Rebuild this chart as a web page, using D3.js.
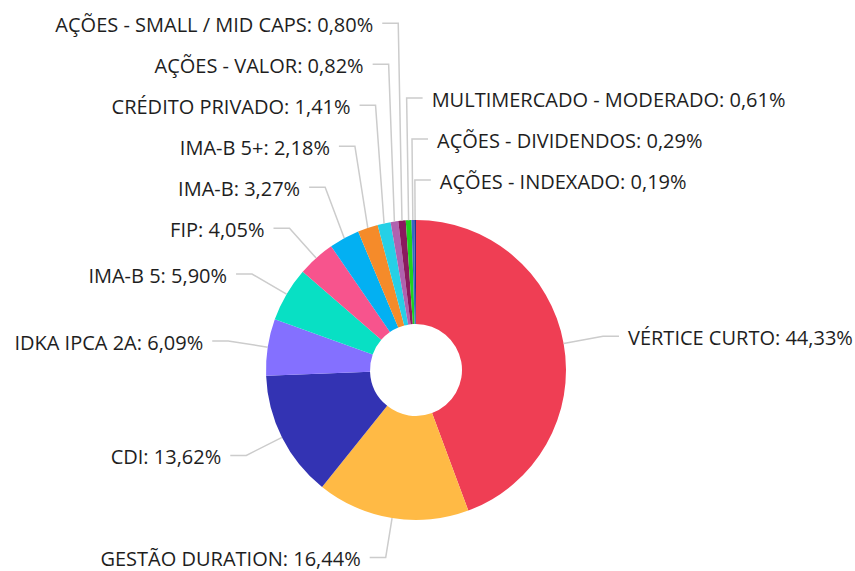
<!DOCTYPE html>
<html>
<head>
<meta charset="utf-8">
<script src="https://cdn.jsdelivr.net/npm/d3@7"></script>
<style>
    body { margin: 0; background: #ffffff; }
    svg { display: block; }
</style>
</head>
<body>
<svg id="drawing_region"></svg>
<script>
const categories = [
    "VÉRTICE CURTO", "GESTÃO DURATION", "CDI", "IDKA IPCA 2A", "IMA-B 5", "FIP",
    "IMA-B", "IMA-B 5+", "CRÉDITO PRIVADO", "AÇÕES - VALOR", "AÇÕES - SMALL / MID CAPS",
    "MULTIMERCADO - MODERADO", "AÇÕES - DIVIDENDOS", "AÇÕES - INDEXADO"
];
const values = [ 44.33, 16.44, 13.62, 6.09, 5.90, 4.05, 3.27, 2.18, 1.41, 0.82, 0.80, 0.61, 0.29, 0.19 ];
const colors = [
    "#ef3e54", "#ffba45", "#3333b3", "#8470ff", "#08e0c4", "#f7548d",
    "#03b0f2", "#f58b2a", "#26d0e6", "#b062b0", "#8b1a5e",
    "#1fd11f", "#3a64c8", "#1f3a93"
];

const data = categories.map( ( c, i ) => ({ label: c, value: values[i], color: colors[i] }) );

class DonutChart {

    constructor( config, data ) {
        this.config = {
            parent: config.parent,
            width: config.width || 256,
            height: config.height || 256,
            center: config.center,
            outer: config.outer || 100,
            inner: config.inner || 0
        }
        this.data = data;
        this.init();
    }

    init() {
        let self = this;

        self.svg = d3.select( self.config.parent )
            .attr( 'width', self.config.width )
            .attr( 'height', self.config.height );

        self.chart = self.svg.append( 'g' )
            .attr( 'transform', `translate(${self.config.center[0]}, ${self.config.center[1]})` );

        self.pie = d3.pie()
            .sort( null )
            .value( d => d.value );

        self.arc = d3.arc()
            .innerRadius( self.config.inner )
            .outerRadius( self.config.outer );

        self.len1 = 40;
        self.len2 = 16;
        self.gap = 9;
        self.row = 41;
        self.top = 12 - self.config.center[1];
    }

    update() {
        let self = this;

        self.arcs = self.pie( self.data );
        const r = self.config.outer;
        self.arcs.forEach( a => {
            a.mid = ( a.startAngle + a.endAngle ) / 2;
            a.p0 = [ Math.sin( a.mid ) * r, -Math.cos( a.mid ) * r ];
            a.p1 = [ Math.sin( a.mid ) * ( r + self.len1 ), -Math.cos( a.mid ) * ( r + self.len1 ) ];
            a.side = a.mid < Math.PI ? 1 : -1;
        });

        // left column: move the highest labels to the right while they do not fit
        let left = self.stack( -1 );
        while ( left.length && left[ left.length - 1 ].ly < self.top ) {
            left[ left.length - 1 ].side = 1;
            left = self.stack( -1 );
        }
        self.stack( 1 );

        self.render();
    }

    // place labels from the bottom up, each one at least a row above the previous
    stack( side ) {
        let self = this;
        const wrap = m => m > Math.PI ? m - 2 * Math.PI : m;
        const list = self.arcs.filter( a => a.side === side )
            .sort( ( a, b ) => side > 0 ? wrap( b.mid ) - wrap( a.mid ) : a.mid - b.mid );
        let prev = Infinity;
        list.forEach( a => {
            a.ly = Math.min( a.p1[1], prev - self.row );
            prev = a.ly;
        });
        return list;
    }

    render() {
        let self = this;

        self.chart.selectAll( "path.slice" )
            .data( self.arcs )
            .enter()
            .append( "path" )
            .attr( "class", "slice" )
            .attr( "d", self.arc )
            .attr( "fill", d => d.data.color );

        self.chart.selectAll( "polyline" )
            .data( self.arcs )
            .enter()
            .append( "polyline" )
            .attr( "points", d => [
                d.p0,
                [ d.p1[0], d.ly ],
                [ d.p1[0] + d.side * self.len2, d.ly ]
            ].map( p => p.join( "," ) ).join( " " ) )
            .attr( "fill", "none" )
            .attr( "stroke", "#cccccc" )
            .attr( "stroke-width", 1.5 );

        const fmt = d3.format( ".2f" );
        self.chart.selectAll( "text" )
            .data( self.arcs )
            .enter()
            .append( "text" )
            .attr( "x", d => d.p1[0] + d.side * ( self.len2 + self.gap ) )
            .attr( "y", d => d.ly )
            .attr( "dy", "0.44em" )
            .attr( "text-anchor", d => d.side > 0 ? "start" : "end" )
            .style( "font-family", "'Open Sans', sans-serif" )
            .style( "font-size", "20px" )
            .attr( "fill", "#1e1e1e" )
            .text( d => `${d.data.label}: ${fmt( d.data.value ).replace( ".", "," )}%` );
    }
}

const config = {
    parent: '#drawing_region',
    width: 855,
    height: 571,
    center: [ 416, 370 ],
    outer: 150,
    inner: 46
};

const donut = new DonutChart( config, data );
donut.update();
</script>
</body>
</html>
